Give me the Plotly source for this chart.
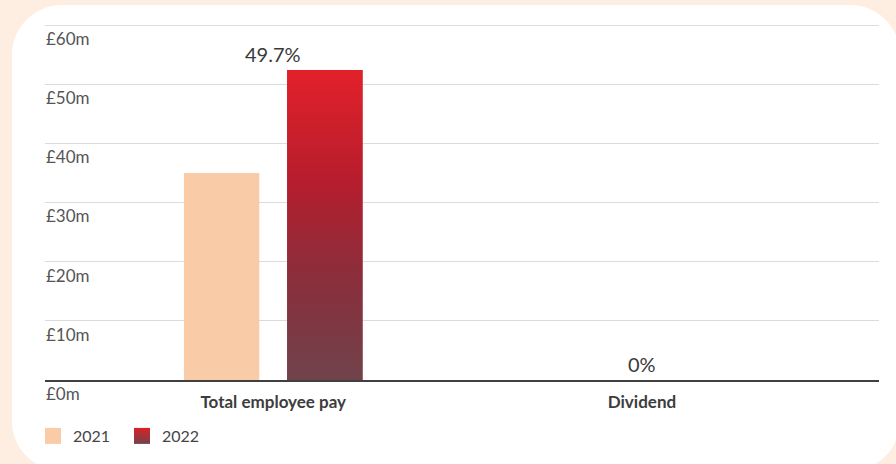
import plotly.graph_objects as go

# ---------------- data ----------------
categories = ["Total employee pay", "Dividend"]
years = ["2021", "2022"]
values_2021 = [35.0, 0.0]
values_2022 = [52.4, 0.0]
change_labels = ["49.7%", "0%"]
y_ticks = [0, 10, 20, 30, 40, 50, 60]

# ---------------- layout constants ----------------
W, H = 896, 464
ML, MR, MT, MB = 45, 17, 23, 83
Y_MAX = 60.34
BARGAP = 0.44
BARGROUPGAP = 0.27
FONT = "Lato"
C_2021 = "#f9cba7"
C_2022 = "#a8242f"
GRAD_2022 = [[0.0, "#70434b"], [0.35, "#8c2d3a"], [0.65, "#b81d2d"], [1.0, "#e2212a"]]
PEACH = "#fdeee1"

PW = W - ML - MR
PH = H - MT - MB


def px(x):
    return (x - ML) / PW


def py(y):
    return (H - MB - y) / PH


x_idx = list(range(len(categories)))

fig = go.Figure()

fig.add_trace(go.Bar(x=x_idx, y=values_2021, name=years[0], marker=dict(color=C_2021, line=dict(width=0)),
                     showlegend=False, hoverinfo="skip"))
fig.add_trace(go.Bar(x=x_idx, y=values_2022, name=years[1], marker=dict(color=C_2022, line=dict(width=0)),
                     showlegend=False, hoverinfo="skip"))

# gradient overlay for the 2022 bars (same geometry as the grouped bar)
slot = (1 - BARGAP) / len(years)
bw = slot * (1 - BARGROUPGAP)
centre_off = -((1 - BARGAP) / 2) + slot * 1.5
for i, v in zip(x_idx, values_2022):
    if v <= 0:
        continue
    x0, x1 = i + centre_off - bw / 2, i + centre_off + bw / 2
    fig.add_trace(go.Scatter(
        x=[x0, x1, x1, x0, x0], y=[0, 0, v, v, 0], mode="lines", line=dict(width=0),
        fill="toself", fillgradient=dict(type="vertical", colorscale=GRAD_2022),
        showlegend=False, hoverinfo="skip"))

# legend proxies
fig.add_trace(go.Scatter(x=[None], y=[None], mode="markers", name=years[0],
                         marker=dict(symbol="square", size=16, color=C_2021)))
fig.add_trace(go.Scatter(x=[None], y=[None], mode="markers", name=years[1],
                         marker=dict(symbol="square", size=16, color="#d92129",
                                     gradient=dict(type="vertical", color="#74414b"))))

# change annotations
for i, lab in zip(x_idx, change_labels):
    top = max(values_2021[i], values_2022[i])
    fig.add_annotation(x=i, y=top, text=lab, showarrow=False, yanchor="bottom", yshift=2,
                       font=dict(family=FONT, size=20, color="#3a3a3a"))

# white card with rounded corners
L, T, R, B, r = 12, 5, 900, 472, 50
k = 0.5523 * r


def P(x, y):
    return f"{px(x):.5f},{py(y):.5f}"


path = (f"M {P(L, T + r)} C {P(L, T + r - k)} {P(L + r - k, T)} {P(L + r, T)} "
        f"L {P(R - r, T)} C {P(R - r + k, T)} {P(R, T + r - k)} {P(R, T + r)} "
        f"L {P(R, B - r)} C {P(R, B - r + k)} {P(R - r + k, B)} {P(R - r, B)} "
        f"L {P(L + r, B)} C {P(L + r - k, B)} {P(L, B - r + k)} {P(L, B - r)} Z")
fig.add_shape(type="path", path=path, xref="paper", yref="paper", fillcolor="white",
              line=dict(width=0), layer="below")

fig.update_layout(
    width=W, height=H,
    margin=dict(l=ML, r=MR, t=MT, b=MB),
    paper_bgcolor=PEACH, plot_bgcolor="rgba(0,0,0,0)",
    barmode="group", bargap=BARGAP, bargroupgap=BARGROUPGAP,
    font=dict(family=FONT, color="#3d3d3d"),
    showlegend=True,
    legend=dict(orientation="h", x=px(33), xanchor="left", y=py(436), yanchor="middle",
                font=dict(family=FONT, size=16, color="#454545"), bgcolor="rgba(0,0,0,0)",
                itemclick=False, itemdoubleclick=False, entrywidth=44, tracegroupgap=0),
    xaxis=dict(type="linear", range=[-0.619, 1.643], tickvals=x_idx,
               ticktext=[f"<b>{c}</b>" for c in categories],
               showgrid=False, zeroline=False, showline=True, linecolor="#404040", linewidth=2,
               ticks="outside", ticklen=6, tickcolor="rgba(0,0,0,0)",
               tickfont=dict(family=FONT, size=17, color="#3d3d3d"), fixedrange=True),
    yaxis=dict(range=[0, Y_MAX], tickvals=y_ticks, ticktext=[f"£{v}m" for v in y_ticks],
               side="right", anchor="free", position=0, ticks="", ticklabelshift=14,
               ticklabelstandoff=0,
               showgrid=True, gridcolor="#dcdcdc", gridwidth=1, zeroline=False, showline=False,
               tickfont=dict(family=FONT, size=17, color="#555555"), fixedrange=True),
)

fig.write_html("out.html")
